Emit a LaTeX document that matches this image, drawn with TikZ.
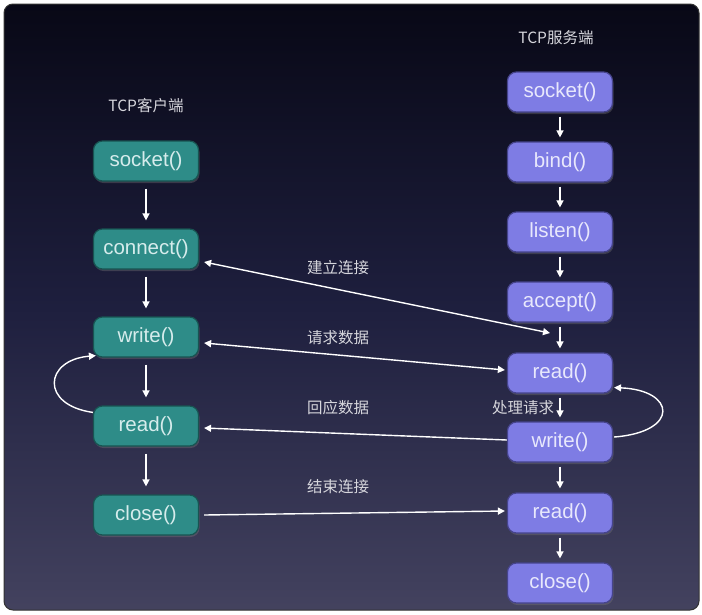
\documentclass[tikz,border=0pt]{standalone}
\usepackage{fontspec}
\setmainfont{Liberation Sans}
\newfontfamily\cjk{Noto Sans CJK SC}
\usetikzlibrary{arrows.meta,shadows,calc}
\definecolor{bgtop}{RGB}{0,0,0}
\definecolor{bgq}{RGB}{8,8,22}
\definecolor{bgmid}{RGB}{30,31,62}
\definecolor{bgq3}{RGB}{64,63,92}
\definecolor{bgbot}{RGB}{112,110,128}
\pgfdeclareverticalshading{bgshade}{100bp}{color(0bp)=(bgbot); color(27bp)=(bgq3); color(50bp)=(bgmid); color(75bp)=(bgq); color(88bp)=(bgtop); color(100bp)=(bgtop)}
\definecolor{tealfill}{RGB}{46,140,136}
\definecolor{tealline}{RGB}{24,84,82}
\definecolor{tealtext}{RGB}{214,236,236}
\definecolor{purfill}{RGB}{126,124,228}
\definecolor{purline}{RGB}{70,68,140}
\definecolor{purtext}{RGB}{232,232,252}
\definecolor{lbl}{RGB}{214,214,220}
\tikzset{
  basebox/.style={rounded corners=9pt, line width=1.2pt, minimum width=105pt, minimum height=40pt, inner sep=0pt,
    font=\fontsize{20.5}{24}\selectfont, drop shadow={opacity=0.35, shadow xshift=1pt, shadow yshift=-2pt}},
  cbox/.style={basebox, fill=tealfill, draw=tealline, text=tealtext},
  sbox/.style={basebox, fill=purfill, draw=purline, text=purtext},
  lab/.style={font=\cjk\fontsize{15.5}{18}\selectfont, text=lbl, inner sep=0pt},
  conn/.style={draw=white, line width=1.4pt},
  tip/.tip={Triangle[length=7pt,width=7pt]},
  varrow/.style={conn, -tip, shorten <=5pt, shorten >=5pt},
}
\begin{document}
\begin{tikzpicture}[x=1pt,y=-1pt]
\fill[white] (0,0) rectangle (702,614);
\useasboundingbox (0,0) rectangle (702,614);
\shade[shading=bgshade, rounded corners=9pt] (4,4) rectangle (699,610);
\draw[rounded corners=9pt, draw=black!80, line width=1pt] (4,4) rectangle (699,610);

% labels
\node[lab] (tc) at (146,106) {TCP客户端};
\node[lab] (ts) at (556,38) {TCP服务端};

% client
\node[cbox] (c1) at (146,161) {socket()};
\node[cbox] (c2) at (146,249) {connect()};
\node[cbox] (c3) at (146,337) {write()};
\node[cbox] (c4) at (146,426) {read()};
\node[cbox] (c5) at (146,515) {close()};

% server
\node[sbox] (s1) at (560,92) {socket()};
\node[sbox] (s2) at (560,162) {bind()};
\node[sbox] (s3) at (560,232) {listen()};
\node[sbox] (s4) at (560,302) {accept()};
\node[sbox] (s5) at (560,373) {read()};
\node[sbox] (s6) at (560,442) {write()};
\node[sbox] (s7) at (560,513) {read()};
\node[sbox] (s8) at (560,583) {close()};

% vertical arrows client
\draw[varrow, shorten <=7pt, shorten >=8pt] (c1) -- (c2);
\draw[varrow, shorten <=7pt, shorten >=8pt] (c2) -- (c3);
\draw[varrow, shorten <=7pt, shorten >=8pt] (c3) -- (c4);
\draw[varrow, shorten <=7pt, shorten >=8pt] (c4) -- (c5);
% vertical arrows server
\draw[varrow, shorten <=4pt, shorten >=4pt] (s1) -- (s2);
\draw[varrow, shorten <=4pt, shorten >=4pt] (s2) -- (s3);
\draw[varrow, shorten <=4pt, shorten >=4pt] (s3) -- (s4);
\draw[varrow, shorten <=4pt, shorten >=4pt] (s4) -- (s5);
\draw[varrow, shorten <=4pt, shorten >=4pt] (s5) -- (s6);
\draw[varrow, shorten <=4pt, shorten >=4pt] (s6) -- (s7);
\draw[varrow, shorten <=4pt, shorten >=4pt] (s7) -- (s8);

% connectors between columns
\coordinate (est) at ($(s4.south)!0.35!(s5.north)+(-10,0)$);
\draw[conn, tip-tip] ([xshift=5pt,yshift=-13pt]c2.east) -- (est);
\node[lab] (l1) at (338,268) {建立连接};

\draw[conn, tip-tip] ([xshift=5pt,yshift=-6pt]c3.east) -- ([xshift=-2pt,yshift=3pt]s5.west);
\node[lab] (l2) at (338,338) {请求数据};

\draw[conn, -tip] ([yshift=2pt]s6.west) -- ([xshift=5pt,yshift=-2pt]c4.east);
\node[lab] (l3) at (338,408) {回应数据};

\draw[conn, -tip] ([xshift=5pt]c5.east) -- ([xshift=-2pt,yshift=2pt]s7.west);
\node[lab] (l4) at (338,487) {结束连接};

\node[lab] (l5) at (523,408) {处理请求};

% loops
\draw[conn, -tip] ([yshift=-7pt]c4.north west) .. controls (40,405) and (44,360) .. ([xshift=3pt,yshift=2pt]c3.south west);
\draw[conn, -tip] ([xshift=1pt,yshift=5pt]s6.east) .. controls (680,432) and (676,390) .. ([xshift=1pt,yshift=6pt]s5.south east);
\end{tikzpicture}
\end{document}
